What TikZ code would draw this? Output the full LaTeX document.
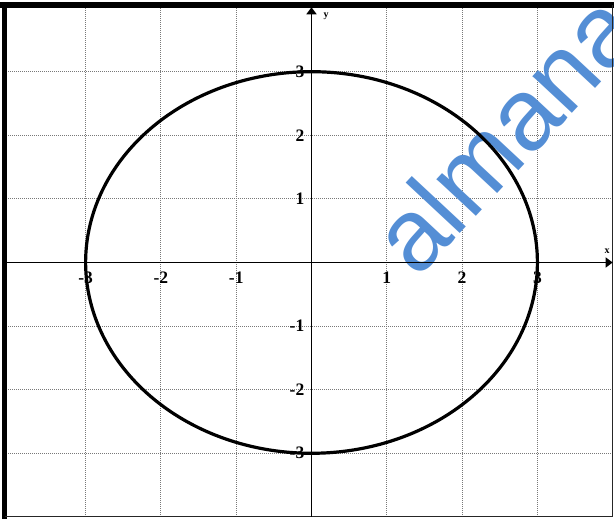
\documentclass[tikz,border=0pt]{standalone}
\usepackage{fontspec}
\setmainfont{Liberation Serif}
\newfontfamily\wmfont{Liberation Sans}
\usetikzlibrary{arrows.meta}
\definecolor{wmblue}{RGB}{84,142,213}
\definecolor{gridgray}{RGB}{120,120,120}
\tikzset{
  gridline/.style={gridgray, line width=0.9pt, dash pattern=on 1pt off 1pt},
  axisline/.style={black, line width=1.6pt, -{Triangle[length=7pt,width=10pt]}},
  ticklab/.style={inner sep=0pt, font=\fontsize{17.5}{20}\selectfont\bfseries},
  axlab/.style={inner sep=0pt, font=\fontsize{10}{12}\selectfont\bfseries},
  wm/.style={inner sep=0pt, text=wmblue, font=\wmfont\fontsize{102}{110}\selectfont},
  curve/.style={black, line width=3.2pt},
}
\begin{document}
\begin{tikzpicture}[x=75.3pt, y=63.6pt]
\useasboundingbox (-4.137,-4.033) rectangle (4.017,4.127);
% grid
\foreach \k in {-3,...,3} {
  \draw[gridline] (\k,-4) -- (\k,4.05);
  \draw[gridline] (-4.08,\k) -- (4,\k);
}
% watermark
\node[wm, rotate=47, anchor=base west] (wmark) at (1.401,-0.275) {almana};
% frame
\coordinate (tl) at (-4.077,4.049);
\coordinate (tr) at (4.017,4.049);
\coordinate (bl) at (-4.077,-4.033);
\coordinate (br) at (4,-4);
\draw[black, line width=6pt] (-4.137,4.049) -- (tr);
\draw[black, line width=5pt] (tl) -- (bl);
\draw[black!85, line width=1.6pt] (-4.077,-3.994) -- (4.01,-3.994);
\draw[black!85, line width=1.6pt] (3.997,4.049) -- (3.997,-4.0);
% axes
\coordinate (xs) at (-4.05,0);
\coordinate (xe) at (3.999,0);
\coordinate (ys) at (0,-4.0);
\coordinate (ye) at (0,4.013);
\draw[axisline] (xs) -- (xe);
\draw[axisline] (ys) -- (ye);
\node[axlab] (xlab) at (3.924,0.170) {x};
\node[axlab] (ylab) at (0.193,3.876) {y};
% circle
\draw[curve] plot[domain=0:360, samples=240, smooth] ({3*cos(\x)},{3*sin(\x)});
% tick labels
\foreach \k in {-3,-2,-1,1,2,3} {
  \node[ticklab] (xt\k) at (\k,-0.236) {\k};
  \node[ticklab, anchor=east] (yt\k) at (-0.093,\k) {\k};
}
\end{tikzpicture}
\end{document}
